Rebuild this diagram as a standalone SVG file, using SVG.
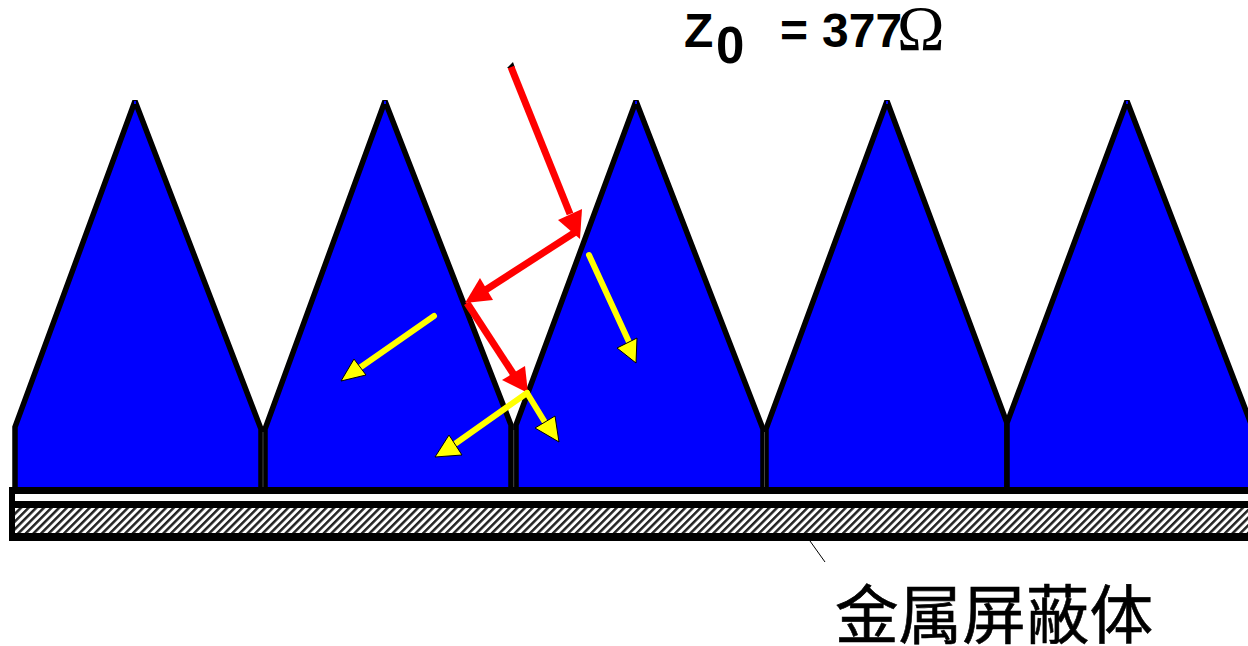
<svg xmlns="http://www.w3.org/2000/svg" width="1248" height="646" viewBox="0 0 1248 646">
<style>
.cone{fill:#0000ff;stroke:#000;stroke-width:5.5;stroke-linejoin:miter;stroke-miterlimit:2.5}
.tip{fill:#0000ff}
.seam{stroke:#444;stroke-width:1;fill:none}
.red{stroke:#ff0000;stroke-width:7;fill:none}
.yel{stroke:#ffff00;stroke-width:6;fill:none;stroke-linecap:round}
.rh{fill:#ff0000}
.yh{fill:#ffff00;stroke:#000;stroke-width:1}
.t{font-family:"Liberation Sans",Arial,sans-serif;font-weight:bold;fill:#000;font-size:48px}
</style>
<defs>
<pattern id="hatch" width="5.4" height="5.4" patternUnits="userSpaceOnUse" patternTransform="rotate(45)">
<rect width="5.4" height="5.4" fill="#fff"/>
<rect width="2.5" height="5.4" fill="#222"/>
</pattern>
</defs>
<rect width="1248" height="646" fill="#fff"/>
<g id="cones">
<g id="cone1"><path class="cone" d="M15 490V427L135 101L261 429V490Z"/><rect class="tip" x="134" y="101" width="2" height="3"/></g>
<g id="cone2"><path class="cone" d="M265 490V429L385 101L511 425V490Z"/><rect class="tip" x="384" y="101" width="2" height="3"/></g>
<g id="cone3"><path class="cone" d="M516 490V425L636 101L763 429V490Z"/><rect class="tip" x="635" y="101" width="2" height="3"/></g>
<g id="cone4"><path class="cone" d="M766 490V429L887 101L1007 423V490Z"/><rect class="tip" x="886" y="101" width="2" height="3"/></g>
<g id="cone5"><path class="cone" d="M1007 490V423L1127 101L1253 429V490Z"/><rect class="tip" x="1126" y="101" width="2" height="3"/></g>
<path class="seam" d="M263 432V487M513.7 430V487M764.5 432V487"/>
</g>
<g id="shield">
<rect x="9" y="489" width="1245" height="52" fill="#000"/>
<rect x="9" y="487" width="1245" height="3" fill="#000"/>
<rect x="15" y="494" width="1240" height="7" fill="#fff"/>
<rect x="15" y="508" width="1240" height="25" fill="url(#hatch)"/>
</g>
<g id="connectors">
<path d="M513 62L507 68L515 68Z" fill="#000"/>
<path class="red" d="M511 67L570 214"/>
<path class="rh" d="M582 209L580 239L558 220Z"/>
<path class="red" d="M577 231L484 291"/>
<path class="rh" d="M465 303L480 278L493 300Z"/>
<path class="red" d="M467 303L516 378"/>
<path class="rh" d="M528 393L502 380L525 366Z"/>
<path class="yel" d="M589 255L629 342"/>
<path class="yh" d="M636 363L617 348L637 338Z"/>
<path class="yel" d="M434 316L358 369"/>
<path class="yh" d="M341 381L354 359L366 375Z"/>
<path class="yel" d="M527 393L452 446"/>
<path class="yh" d="M435 457L449 435L462 455Z"/>
<path class="yel" d="M527 393L546 424"/>
<path class="yh" d="M559 442L535 428L555 416Z"/>
<path d="M810 541L825 562" stroke="#000" stroke-width="1" fill="none"/>
</g>
<g id="labels">
<text class="t" x="684" y="47">Z</text>
<text class="t" x="716" y="63" style="font-size:51px">0</text>
<text class="t" x="780" y="47">=</text>
<text class="t" x="822" y="47">377</text>
<text x="897" y="50" font-size="64" font-family="'Liberation Serif','Times New Roman',serif">Ω</text>
<text x="835" y="638" font-size="63.6" stroke="#000" stroke-width="0.6" font-family="'Noto Sans CJK SC',sans-serif">金属屏蔽体</text>
</g>
</svg>
